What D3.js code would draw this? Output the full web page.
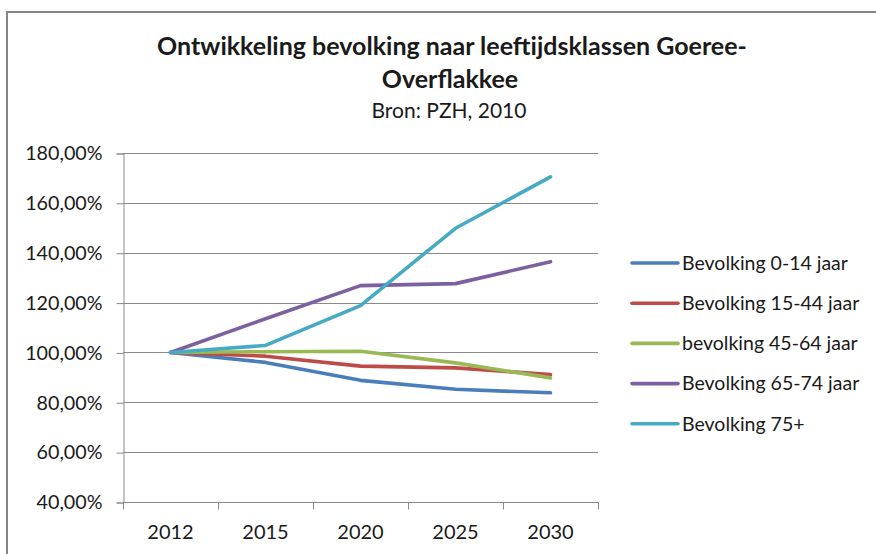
<!DOCTYPE html>
<html>
<head>
    <meta charset="utf-8" />
    <title>Ontwikkeling bevolking Goeree-Overflakkee</title>
    <script src="https://cdn.jsdelivr.net/npm/d3@7"></script>
    <style>
        body { margin: 0; background: #fff; }
        svg text { font-family: Lato, "Open Sans", sans-serif; fill: #1a1a1a; }
    </style>
</head>
<body>
<script>
    // years on the x axis
    var years = ["2012", "2015", "2020", "2025", "2030"]
    // series names (as in the legend)
    var seriesNames = ["Bevolking 0-14 jaar", "Bevolking 15-44 jaar", "bevolking 45-64 jaar", "Bevolking 65-74 jaar", "Bevolking 75+"]
    var seriesColors = ["#4a7ebb", "#be4b48", "#98b954", "#7d60a0", "#46aac5"]
    // index values, 2012 = 100%
    var age0_14 = [1.000, 0.960, 0.888, 0.852, 0.838]
    var age15_44 = [1.000, 0.985, 0.945, 0.938, 0.911]
    var age45_64 = [1.000, 1.003, 1.005, 0.958, 0.898]
    var age65_74 = [1.000, 1.135, 1.268, 1.276, 1.364]
    var age75plus = [1.000, 1.028, 1.188, 1.498, 1.704]
    var yTicks = [0.4, 0.6, 0.8, 1.0, 1.2, 1.4, 1.6, 1.8]

    var config = {
        WIDTH: 876,
        HEIGHT: 554,
        plot: { LEFT: 123, RIGHT: 598, TOP: 153, BOTTOM: 502 },
        GRID: "#8a8a8a",
        LINE_WIDTH: 3.6
    }

    var seriesValues = [age0_14, age15_44, age45_64, age65_74, age75plus]
    var series = seriesNames.map(function (name, i) {
        return { name: name, color: seriesColors[i], values: seriesValues[i] }
    })

    var nl = d3.formatLocale({ decimal: ",", thousands: ".", grouping: [3], currency: ["€", ""] })
    var pct = nl.format(".2%")

    var svg = d3.select("body").append("svg")
        .attr("width", config.WIDTH)
        .attr("height", config.HEIGHT)

    // outer chart frame (runs off the right and bottom edge)
    svg.append("rect")
        .attr("x", 7).attr("y", 12)
        .attr("width", 900).attr("height", 600)
        .attr("fill", "#fff")
        .attr("stroke", "#868686")
        .attr("stroke-width", 2)

    // titles
    svg.append("text").attr("x", 452).attr("y", 55).attr("text-anchor", "middle")
        .style("font-size", "25px").style("font-weight", "bold")
        .text("Ontwikkeling bevolking naar leeftijdsklassen Goeree-")
    svg.append("text").attr("x", 450).attr("y", 88).attr("text-anchor", "middle")
        .style("font-size", "25px").style("font-weight", "bold")
        .text("Overflakkee")
    svg.append("text").attr("x", 449).attr("y", 118).attr("text-anchor", "middle")
        .style("font-size", "21px")
        .text("Bron: PZH, 2010")

    var x = d3.scaleBand().domain(years)
        .range([config.plot.LEFT, config.plot.RIGHT])
    var y = d3.scaleLinear().domain([0.4, 1.8])
        .range([config.plot.BOTTOM, config.plot.TOP])

    // horizontal gridlines
    svg.append("g").selectAll("line").data(yTicks.slice(1)).enter().append("line")
        .attr("x1", config.plot.LEFT).attr("x2", config.plot.RIGHT)
        .attr("y1", function (d) { return Math.round(y(d)) + 0.5 })
        .attr("y2", function (d) { return Math.round(y(d)) + 0.5 })
        .attr("stroke", config.GRID)

    // y axis
    var yAxis = svg.append("g")
        .attr("transform", "translate(" + (config.plot.LEFT + 0.5) + ",0.5)")
        .call(d3.axisLeft(y).tickValues(yTicks).tickFormat(pct).tickSize(7).tickPadding(14))
    yAxis.selectAll("line, path").attr("stroke", config.GRID)
    yAxis.selectAll("text").style("font-size", "19.7px").style("font-family", "Lato, sans-serif").attr("fill", "#1a1a1a")

    // x axis, ticks between categories
    var xAxisG = svg.append("g").attr("transform", "translate(0," + (config.plot.BOTTOM + 0.5) + ")")
    xAxisG.append("line")
        .attr("x1", config.plot.LEFT).attr("x2", config.plot.RIGHT)
        .attr("stroke", config.GRID)
    var edges = years.map(function (d) { return x(d) }).concat([config.plot.RIGHT])
    xAxisG.selectAll(".tick").data(edges).enter().append("line")
        .attr("x1", function (d) { return Math.round(d) + 0.5 })
        .attr("x2", function (d) { return Math.round(d) + 0.5 })
        .attr("y1", 0).attr("y2", 7)
        .attr("stroke", config.GRID)
    xAxisG.selectAll("text").data(years).enter().append("text")
        .attr("x", function (d) { return x(d) + x.bandwidth() / 2 })
        .attr("y", 36)
        .attr("text-anchor", "middle")
        .style("font-size", "20px")
        .text(function (d) { return d })

    // lines
    var line = d3.line()
        .x(function (d, i) { return x(years[i]) + x.bandwidth() / 2 })
        .y(function (d) { return y(d) })
    svg.append("g").selectAll("path").data(series).enter().append("path")
        .attr("d", function (s) { return line(s.values) })
        .attr("fill", "none")
        .attr("stroke", function (s) { return s.color })
        .attr("stroke-width", config.LINE_WIDTH)
        .attr("stroke-linejoin", "round")
        .attr("stroke-linecap", "round")

    // legend
    var legend = svg.append("g").selectAll("g").data(series).enter().append("g")
        .attr("transform", function (s, i) { return "translate(632," + (263 + i * 40.2) + ")" })
    legend.append("line")
        .attr("x1", 0).attr("x2", 46)
        .attr("stroke", function (s) { return s.color })
        .attr("stroke-width", config.LINE_WIDTH)
        .attr("stroke-linecap", "round")
    legend.append("text")
        .attr("x", 50).attr("dy", "0.35em")
        .style("font-size", "19.5px")
        .text(function (s) { return s.name })
</script>
</body>
</html>
